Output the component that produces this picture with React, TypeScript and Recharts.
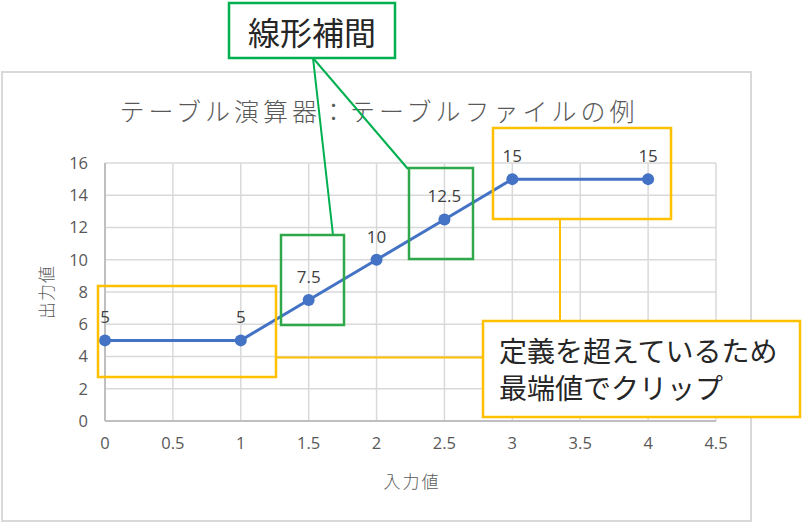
import React from "react";
import { LineChart, Line, XAxis, YAxis, CartesianGrid, LabelList } from "recharts";

const inputValues = [0, 1, 1.5, 2, 2.5, 3, 4];
const outputValues = [5, 5, 7.5, 10, 12.5, 15, 15];
const xTicks = [0, 0.5, 1, 1.5, 2, 2.5, 3, 3.5, 4, 4.5];
const yTicks = [0, 2, 4, 6, 8, 10, 12, 14, 16];

const chartTitle = "テーブル演算器：テーブルファイルの例";
const xTitle = "入力値";
const yTitle = "出力値";
const greenNote = "線形補間";
const yellowNote = ["定義を超えているため", "最端値でクリップ"];

const data = inputValues.map((x, i) => ({ x, y: outputValues[i] }));

const JP = "'Noto Sans CJK JP', 'Noto Sans', sans-serif";
const NUM = "'Open Sans', 'Noto Sans CJK JP', sans-serif";
const GREEN = "#00B050";
const GREEN2 = "#2EA84A";
const YELLOW = "#FFC000";
const TXT = "#262626";

export default function App() {
  return (
    <div style={{ position: "absolute", left: 0, top: 0, width: 803, height: 523, background: "#fff", overflow: "hidden" }}>
      <div
        style={{
          position: "absolute",
          left: 1,
          top: 71,
          width: 751,
          height: 451,
          border: "2px solid #d9d9d9",
          boxSizing: "border-box",
        }}
      />
      <div style={{ position: "absolute", left: 0, top: 0 }}>
        <LineChart width={803} height={523} data={data} margin={{ top: 163, right: 87, bottom: 72, left: 45 }}>
          <CartesianGrid stroke="#d9d9d9" strokeWidth={1.5} />
          <XAxis
            dataKey="x"
            type="number"
            domain={[0, 4.5]}
            ticks={xTicks}
            height={30}
            tickLine={false}
            tickSize={0}
            tickMargin={16}
            axisLine={{ stroke: "#bfbfbf", strokeWidth: 2 }}
            tick={{ fill: "#595959", fontSize: 16.5, fontFamily: NUM }}
            allowDecimals
          />
          <YAxis
            type="number"
            domain={[0, 16]}
            ticks={yTicks}
            width={60}
            tickLine={false}
            tickSize={0}
            tickMargin={17}
            axisLine={{ stroke: "#bfbfbf", strokeWidth: 2 }}
            tick={{ fill: "#595959", fontSize: 16.5, fontFamily: NUM }}
          />
          <Line
            dataKey="y"
            stroke="#4472C4"
            strokeWidth={3}
            dot={{ r: 6, fill: "#4472C4", stroke: "none" }}
            activeDot={false}
            isAnimationActive={false}
          >
            <LabelList dataKey="y" position="top" offset={17} fill="#404040" fontSize={17} fontFamily={NUM} />
          </Line>
        </LineChart>
      </div>
      <svg width={803} height={523} style={{ position: "absolute", left: 0, top: 0, pointerEvents: "none" }}>
        <text x={379} y={110} textAnchor="middle" dominantBaseline="central" fontSize={25} fontWeight={300} letterSpacing={4} fill="#595959" fontFamily={JP}>
          {chartTitle}
        </text>
        <text x={412} y={480} textAnchor="middle" dominantBaseline="central" fontSize={17} fontWeight={300} letterSpacing={2} fill="#595959" fontFamily={JP}>
          {xTitle}
        </text>
        <text
          x={45}
          y={292}
          textAnchor="middle"
          dominantBaseline="central"
          fontSize={17}
          fontWeight={300}
          letterSpacing={1}
          fill="#595959"
          fontFamily={JP}
          transform="rotate(-90 45 292)"
        >
          {yTitle}
        </text>

        {/* green annotations */}
        <line x1={313} y1={58} x2={333} y2={235} stroke={GREEN} strokeWidth={2} />
        <line x1={313} y1={58} x2={408} y2={169} stroke={GREEN} strokeWidth={2} />
        <rect x={229} y={3} width={166} height={55} fill="#fff" stroke={GREEN} strokeWidth={2.5} />
        <text x={312} y={31} textAnchor="middle" dominantBaseline="central" fontSize={32} fill={TXT} fontFamily={JP}>
          {greenNote}
        </text>
        <rect x={281} y={235} width={63} height={90} fill="none" stroke={GREEN2} strokeWidth={2.5} />
        <rect x={409} y={168} width={64} height={91} fill="none" stroke={GREEN2} strokeWidth={2.5} />

        {/* yellow annotations */}
        <rect x={98} y={286} width={178} height={91} fill="none" stroke={YELLOW} strokeWidth={2.5} />
        <rect x={493} y={128} width={178} height={91} fill="none" stroke={YELLOW} strokeWidth={2.5} />
        <line x1={560} y1={219} x2={560} y2={321} stroke={YELLOW} strokeWidth={2} />
        <line x1={276} y1={357.5} x2={483} y2={357.5} stroke={YELLOW} strokeWidth={2} />
        <rect x={483} y={321} width={317} height={96} fill="#fff" stroke={YELLOW} strokeWidth={2.5} />
        <text x={499} y={350} dominantBaseline="central" fontSize={28} fill={TXT} fontFamily={JP}>
          {yellowNote[0]}
        </text>
        <text x={499} y={387} dominantBaseline="central" fontSize={28} fill={TXT} fontFamily={JP}>
          {yellowNote[1]}
        </text>
      </svg>
    </div>
  );
}
